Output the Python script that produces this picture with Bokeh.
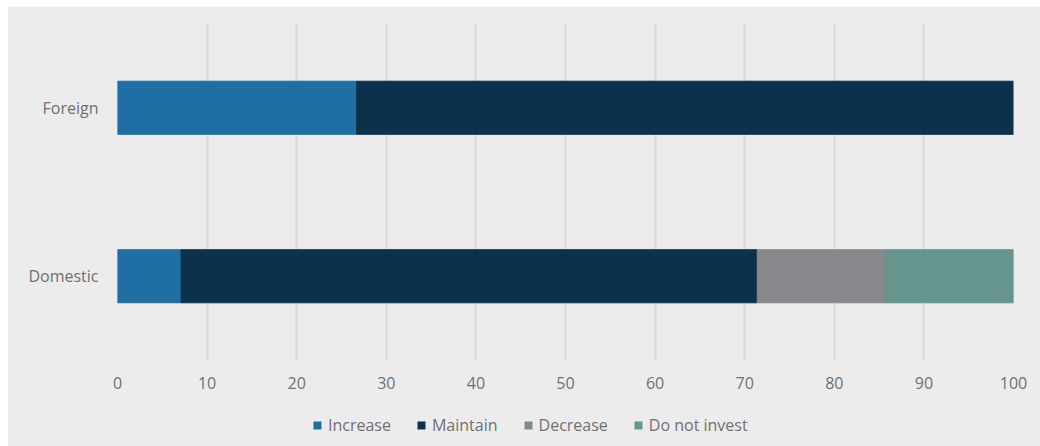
from bokeh.plotting import figure
from bokeh.layouts import column
from bokeh.models import Legend, LegendItem, FactorRange, Range1d, FixedTicker
from bokeh.embed import file_html
from bokeh.resources import INLINE

groups = ["Domestic", "Foreign"]
series = ["Increase", "Maintain", "Decrease", "Do not invest"]
increase = [7.1, 26.7]
maintain = [64.3, 73.3]
decrease = [14.3, 0.0]
do_not_invest = [14.3, 0.0]
x_ticks = [0, 10, 20, 30, 40, 50, 60, 70, 80, 90, 100]

colors = ["#1F6FA5", "#0B314B", "#87888C", "#66958F"]
BG = "#ECECEC"
FONT = "Open Sans"
TXT = "#707070"

data = {"group": groups, "Increase": increase, "Maintain": maintain,
        "Decrease": decrease, "Do not invest": do_not_invest}

# main chart
p = figure(y_range=FactorRange(*groups, range_padding=0), x_range=Range1d(0, 100),
           width=1032, height=400, output_backend="svg", toolbar_location=None,
           min_border_left=109, min_border_right=27, min_border_top=16, min_border_bottom=47,
           background_fill_color=BG, border_fill_color=BG, outline_line_color=None)

p.hbar_stack(series, y="group", height=0.315, color=colors, source=data,
             line_color=colors)

p.ygrid.grid_line_color = None
p.xgrid.grid_line_color = "#D9D9D9"
p.xgrid.grid_line_width = 2
p.xaxis.ticker = FixedTicker(ticks=x_ticks)
p.xaxis.axis_line_color = None
p.xaxis.major_tick_line_color = None
p.xaxis.minor_tick_line_color = None
p.xaxis.major_tick_out = 0
p.xaxis.major_label_standoff = 16
p.yaxis.axis_line_color = None
p.yaxis.major_tick_line_color = None
p.yaxis.minor_tick_line_color = None
p.yaxis.major_tick_out = 0
p.yaxis.major_label_standoff = 19
for ax in (p.xaxis, p.yaxis):
    ax.major_label_text_font = FONT
    ax.major_label_text_font_size = "16px"
    ax.major_label_text_color = TXT

# legend strip: same series, drawn with zero height so only the legend shows
q = figure(y_range=FactorRange(*groups, range_padding=0), x_range=Range1d(0, 100),
           width=1032, height=39, output_backend="svg", toolbar_location=None,
           x_axis_location=None, y_axis_location=None,
           min_border_left=0, min_border_right=0, min_border_top=0, min_border_bottom=0,
           background_fill_color=BG, border_fill_color=BG, outline_line_color=None)
q.xgrid.grid_line_color = None
q.ygrid.grid_line_color = None
rs = q.hbar_stack(series, y="group", height=0, fill_color=colors, source=data,
                  line_color=None)

items = [LegendItem(label=s, renderers=[r]) for s, r in zip(series, rs)]
legend = Legend(items=items, orientation="horizontal", location=(195, 10),
                padding=0, margin=0, spacing=25, label_standoff=6,
                glyph_width=10, glyph_height=10,
                label_text_font=FONT, label_text_font_size="16px",
                label_text_color=TXT, background_fill_alpha=0,
                border_line_color=None)
q.add_layout(legend, "center")

layout = column(p, q, spacing=0, styles={"background-color": BG})
layout.margin = (7, 0, 0, 8)
open("out.html", "w").write(file_html(layout, INLINE))
